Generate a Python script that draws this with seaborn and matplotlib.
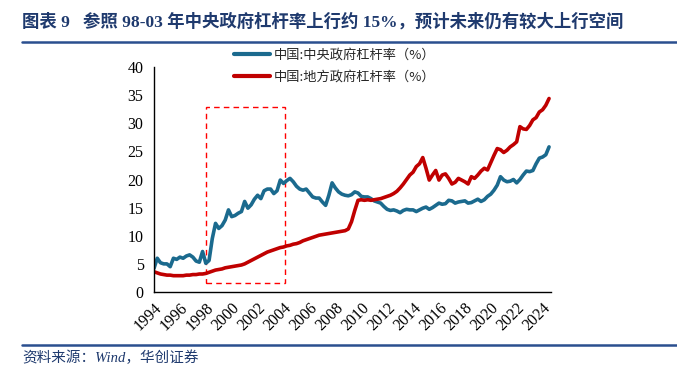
import numpy as np
import pandas as pd
import matplotlib
matplotlib.use("Agg")
import matplotlib.pyplot as plt
import seaborn as sns
from matplotlib.patches import Rectangle
from matplotlib.lines import Line2D

# quarterly series, 1994Q1 .. 2024Q3
central = [4.2, 6.0, 5.2, 5.0,
           5.0, 4.5, 6.0, 5.8,
           6.2, 6.0, 6.4, 6.6,
           6.2, 5.5, 5.3, 7.2,
           5.1, 5.6, 9.5, 12.2,
           11.3, 11.8, 12.8, 14.6,
           13.4, 13.6, 14.0, 14.3,
           16.1, 14.9, 15.5, 16.5,
           17.2, 16.6, 18.0, 18.3,
           18.3, 17.5, 18.0, 19.9,
           19.3, 19.8, 20.2, 19.6,
           18.8, 18.3, 18.1, 18.3,
           17.6, 16.9, 16.7, 16.7,
           16.0, 15.4, 17.2, 19.4,
           18.5, 17.8, 17.4, 17.2,
           17.1, 17.3, 17.8, 17.6,
           17.0, 16.9, 16.9, 16.6,
           16.2, 16.0, 15.8, 15.2,
           14.7, 14.5, 14.6, 14.4,
           14.1, 14.5, 14.7, 14.6,
           14.6, 14.3, 14.6, 14.9,
           15.1, 14.7, 15.0, 15.4,
           15.8, 15.6, 15.7, 16.3,
           16.2, 15.8, 16.0, 16.1,
           16.2, 15.8, 15.9, 16.2,
           16.5, 16.1, 16.4, 17.0,
           17.4, 18.1, 19.0, 20.5,
           19.9, 19.6, 19.7, 20.0,
           19.4, 20.0, 20.8, 21.5,
           21.4, 21.6, 22.8, 23.8,
           24.0, 24.4, 25.8]

local = [3.6, 3.4, 3.2, 3.1,
         3.0, 3.0, 2.9, 2.9,
         2.9, 2.9, 3.0, 3.0,
         3.1, 3.1, 3.2, 3.2,
         3.3, 3.5, 3.7, 3.9,
         4.0, 4.1, 4.3, 4.4,
         4.5, 4.6, 4.7, 4.8,
         5.0, 5.3, 5.6, 5.9,
         6.2, 6.5, 6.8, 7.1,
         7.3, 7.5, 7.7, 7.9,
         8.0, 8.2, 8.3, 8.5,
         8.6, 8.8, 9.1, 9.3,
         9.5, 9.7, 9.9, 10.1,
         10.2, 10.3, 10.4, 10.5,
         10.6, 10.7, 10.8, 10.9,
         11.2, 12.5, 14.5, 16.3,
         16.4, 16.3, 16.4, 16.3,
         16.4, 16.5, 16.6, 16.8,
         17.0, 17.2, 17.5, 17.9,
         18.5, 19.2, 20.0, 20.8,
         21.3, 22.3, 22.8, 23.9,
         22.0, 19.9, 20.8, 21.6,
         19.9, 20.8, 21.0, 20.2,
         19.2, 19.5, 20.2, 19.9,
         19.6, 19.2, 20.5, 20.2,
         20.8, 21.5, 22.0, 21.7,
         23.0, 24.3, 25.5, 25.3,
         24.8, 25.2, 25.8, 26.2,
         26.7, 29.4, 29.0, 28.9,
         29.6, 30.6, 31.0, 32.0,
         32.4, 33.2, 34.4]

labels = ['中国:中央政府杠杆率（%）', '中国:地方政府杠杆率（%）']
colors = ['#1B6A8E', '#C00000']
year_ticks = list(range(1994, 2025, 2))
box_years = (1998.0, 2004.1)
box_vals = (1.6, 32.9)

years = 1994 + np.arange(len(central)) / 4
df = pd.DataFrame({'year': np.concatenate([years, years]),
                   'value': central + local,
                   'series': [labels[0]] * len(central) + [labels[1]] * len(local)})

sns.set_style("white")
serif_cjk = ['Liberation Serif', 'Noto Sans CJK SC']
plt.rcParams['font.family'] = serif_cjk

fig = plt.figure(figsize=(6.77, 3.77), dpi=100)
ax = fig.add_axes([154 / 677, 1 - 292 / 377, (551 - 154) / 677, (292 - 67) / 377])

sns.lineplot(data=df, x='year', y='value', hue='series', palette=colors,
             linewidth=2.6, ax=ax, legend=False)

ax.add_patch(Rectangle((box_years[0], box_vals[0]), box_years[1] - box_years[0],
                       box_vals[1] - box_vals[0], fill=False, edgecolor='#FF0000',
                       linestyle=(0, (4, 3)), linewidth=1.0))

ax.set_xlim(1994, 2024.65)
ax.set_ylim(0, 40)
ax.set_yticks(range(0, 41, 5))
ax.set_xticks(year_ticks)
ax.set_xticklabels([str(y) for y in year_ticks], rotation=45, ha='right',
                   rotation_mode='anchor')
ax.set_xlabel('')
ax.set_ylabel('')
ax.tick_params(axis='both', direction='out', length=4, width=1, color='black',
               labelsize=11.5, labelcolor='black')
ax.tick_params(axis='x', pad=2)
for s in ['top', 'right']:
    ax.spines[s].set_visible(False)
for s in ['left', 'bottom']:
    ax.spines[s].set_color('black')
    ax.spines[s].set_linewidth(1.0)

handles = [Line2D([], [], color=c, linewidth=3) for c in colors]
leg = fig.legend(handles, labels, loc='upper left', bbox_to_anchor=(222 / 677, 1 - 37 / 377),
                 frameon=False, handlelength=2.7, handletextpad=0.35,
                 labelspacing=0.7, prop={'family': ['Noto Sans CJK SC'], 'size': 9.5})

title_color = '#1F3A6E'
fig.text(22 / 677, 1 - 22 / 377,
         '图表 9   参照 98-03 年中央政府杠杆率上行约 15%，预计未来仍有较大上行空间',
         fontsize=12.5, fontweight='bold', color=title_color, va='center', ha='left',
         family=serif_cjk)
fig.add_artist(Line2D([22 / 677, 1.0], [1 - 42 / 377, 1 - 42 / 377],
                      color='#2A4F8F', linewidth=1.8))
fig.add_artist(Line2D([22 / 677, 1.0], [1 - 345 / 377, 1 - 345 / 377],
                      color='#2A4F8F', linewidth=1.8))
fig.text(22 / 677, 1 - 358 / 377, '资料来源：Wind，华创证券', fontsize=10.5,
         style='italic', color=title_color, va='center', ha='left', family=serif_cjk)

fig.savefig('out.png', dpi=100)
